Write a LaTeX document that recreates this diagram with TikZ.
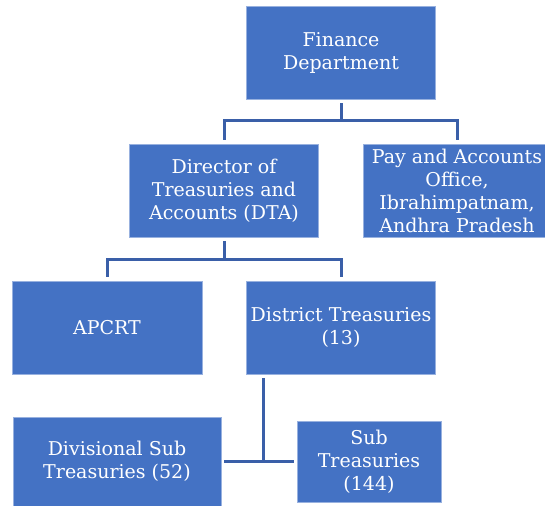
\documentclass[tikz,border=0pt]{standalone}
\usepackage{fontspec}
\setmainfont{DejaVu Serif}
\definecolor{boxblue}{HTML}{4472C4}
\definecolor{lineblue}{HTML}{3A5FA8}
\begin{document}
\begin{tikzpicture}[x=1pt,y=-1pt,
  orgbox/.style={draw=boxblue!55!white, line width=0.6pt, fill=boxblue, text=white, align=center,
    font=\fontsize{19}{23}\selectfont, inner sep=0pt},
  conn/.style={draw=lineblue, line width=3pt}]
\useasboundingbox (0,0) rectangle (545,505);
\begin{scope}
\clip (0,0) rectangle (545,505);
\node[orgbox,minimum width=189pt,minimum height=93pt] (fin) at (341,52.5) {Finance\\Department};
\node[orgbox,minimum width=189pt,minimum height=93pt] (dta) at (224,190.5) {Director of\\Treasuries and\\Accounts (DTA)};
\node[orgbox,minimum width=188pt,minimum height=93pt] (pao) at (457,190.5) {Pay and Accounts\\Office,\\Ibrahimpatnam,\\Andhra Pradesh};
\node[orgbox,minimum width=190pt,minimum height=93pt] (apcrt) at (107,327.5) {APCRT};
\node[orgbox,minimum width=189pt,minimum height=93pt] (dist) at (341,327.5) {District Treasuries\\(13)};
\node[orgbox,minimum width=208pt,minimum height=89pt] (div) at (117,461.5) {Divisional Sub\\Treasuries (52)};
\node[orgbox,minimum width=144pt,minimum height=81pt] (sub) at (369,461.5) {Sub\\Treasuries\\(144)};
\end{scope}
\coordinate (hub) at (263,462);
\path[conn,shorten <=4pt,shorten >=4pt] (fin.south) -- (fin.south |- 0,121) -| (dta.north);
\path[conn,shorten >=4pt] (fin.south |- 0,121) -| (pao.north);
\path[conn,shorten <=4pt,shorten >=4pt] (dta.south) -- (dta.south |- 0,259) -| (apcrt.north);
\path[conn,shorten >=4pt] (dta.south |- 0,259) -| (dist.north);
\path[conn,shorten <=4pt] (dist.south -| hub) -- (hub);
\path[conn,shorten <=3pt,shorten >=3pt] (div.east) -- (sub.west);
\end{tikzpicture}
\end{document}
